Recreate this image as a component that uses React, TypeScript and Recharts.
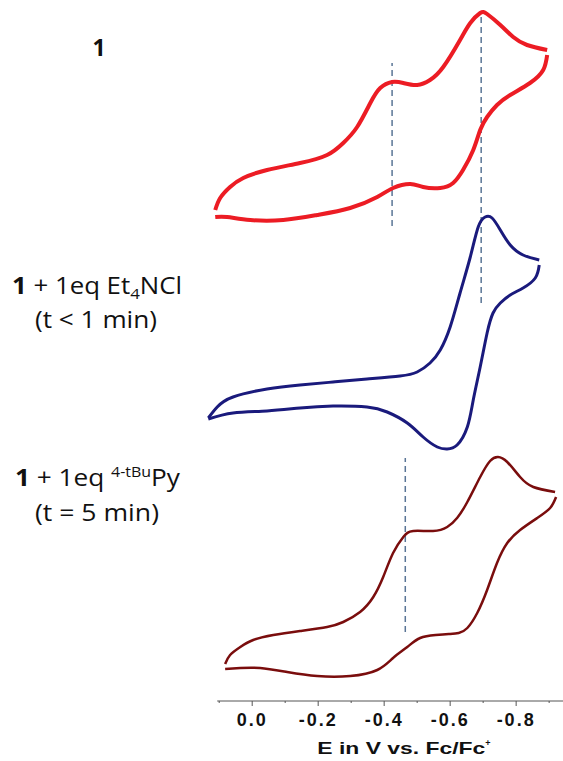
import { LineChart, Line, XAxis, YAxis, ReferenceLine } from 'recharts'

// potentials in V vs Fc/Fc+, current in arbitrary units (traces stacked)
const redFwdE = [0.112, 0.097, 0.067, 0.027, -0.045, -0.145, -0.227, -0.276, -0.318, -0.358, -0.388, -0.424, -0.458, -0.5, -0.539, -0.579, -0.63, -0.661, -0.691, -0.712, -0.752, -0.791, -0.833, -0.894]
const redFwdI = [491, 503, 514, 523, 531, 538, 546, 558, 574, 598, 613, 619, 618, 616, 621, 634, 661, 678, 688, 687, 676, 664, 656, 651]
const redRevE = [-0.894, -0.882, -0.842, -0.782, -0.742, -0.712, -0.691, -0.67, -0.639, -0.609, -0.57, -0.518, -0.479, -0.427, -0.379, -0.297, -0.197, -0.094, 0.006, 0.076, 0.112]
const redRevI = [646, 631, 618, 606, 596, 584, 571, 551, 531, 518, 513, 514, 517, 513, 504, 493, 486, 481, 481, 484, 484]

const blueFwdE = [0.133, 0.106, 0.058, -0.045, -0.145, -0.245, -0.348, -0.448, -0.5, -0.539, -0.57, -0.6, -0.63, -0.661, -0.685, -0.706, -0.727, -0.752, -0.782, -0.821, -0.87]
const blueFwdI = [283, 294, 304, 312, 316, 319, 322, 325, 329, 338, 351, 374, 408, 444, 474, 484, 483, 471, 456, 446, 441]
const blueRevE = [-0.87, -0.858, -0.821, -0.782, -0.752, -0.73, -0.712, -0.691, -0.67, -0.652, -0.621, -0.591, -0.561, -0.518, -0.47, -0.409, -0.348, -0.245, -0.145, -0.045, 0.058, 0.133]
const blueRevI = [436, 423, 413, 406, 398, 388, 368, 334, 301, 274, 256, 252, 254, 264, 278, 289, 294, 295, 293, 290, 288, 282]

const brownFwdE = [0.082, 0.067, 0.036, -0.003, -0.064, -0.145, -0.227, -0.276, -0.327, -0.367, -0.397, -0.427, -0.458, -0.488, -0.548, -0.591, -0.621, -0.652, -0.691, -0.721, -0.745, -0.773, -0.812, -0.852, -0.918]
const brownFwdI = [37, 46, 54, 61, 66, 70, 74, 79, 89, 104, 124, 148, 164, 170, 170, 174, 183, 199, 224, 240, 244, 239, 224, 214, 209]
const brownRevE = [-0.921, -0.903, -0.864, -0.812, -0.773, -0.742, -0.712, -0.682, -0.652, -0.626, -0.596, -0.556, -0.509, -0.47, -0.427, -0.379, -0.297, -0.197, -0.106, -0.024, 0.036, 0.082]
const brownRevI = [204, 193, 183, 171, 158, 138, 111, 88, 73, 68, 67, 66, 63, 54, 43, 31, 25, 25, 29, 33, 33, 32]

// dashed guides: [potential, from, to]
const guides = [
  [-0.424, 475, 638],
  [-0.694, 398, 689],
  [-0.464, 69, 243],
]

const xTicks = [0.1, 0, -0.1, -0.2, -0.3, -0.4, -0.5, -0.6, -0.7, -0.8, -0.9]

const pts = (e: number[], i: number[]) => e.map((v, k) => ({ e: v, i: i[k] }))

const AxisTick = (props: any) => {
  const { x, y, payload } = props
  const v = payload.value
  const major = Math.abs(Math.round(v * 10)) % 2 === 0
  const label = v === 0 ? '0.0' : v.toFixed(1)
  return (
    <g>
      <line x1={x} x2={x} y1={y} y2={y + (major ? 5 : 2)} stroke="#555" />
      {major && (
        <text x={x} y={y + 25} textAnchor="middle" fontFamily="'Liberation Sans', Arial" fontWeight="bold" fontSize={18} letterSpacing={2} fill="#111">
          {label}
        </text>
      )}
    </g>
  )
}

const labelFont = "'Open Sans', Lato, sans-serif"

export default function App() {
  return (
    <div style={{ position: 'absolute', left: 0, top: 0, width: 563, height: 761, background: '#fff' }}>
      <LineChart width={563} height={761} margin={{ top: 0, right: 0, left: 206, bottom: 0 }}>
        <XAxis
          type="number"
          dataKey="e"
          domain={[-0.942, 0.14]}
          reversed
          ticks={xTicks}
          interval={0}
          height={60}
          axisLine={false}
          tickLine={false}
          tickSize={0}
          tickMargin={0}
          tick={<AxisTick />}
        />
        <YAxis hide type="number" domain={[0, 701]} />
        <ReferenceLine segment={[{ x: 0.106, y: 0 }, { x: -0.942, y: 0 }]} stroke="#555" strokeWidth={1} ifOverflow="visible" />
        {guides.map((g, k) => (
          <ReferenceLine key={k} segment={[{ x: g[0], y: g[1] }, { x: g[0], y: g[2] }]} stroke="#5a7596" strokeWidth={1.5} strokeDasharray="6 4" ifOverflow="visible" />
        ))}
        <Line data={pts(redFwdE, redFwdI)} dataKey="i" type="natural" stroke="#ec1c24" strokeWidth={4} dot={false} isAnimationActive={false} />
        <Line data={pts(redRevE, redRevI)} dataKey="i" type="natural" stroke="#ec1c24" strokeWidth={4} dot={false} isAnimationActive={false} />
        <Line data={pts(blueFwdE, blueFwdI)} dataKey="i" type="natural" stroke="#1a1a7c" strokeWidth={3} dot={false} isAnimationActive={false} />
        <Line data={pts(blueRevE, blueRevI)} dataKey="i" type="natural" stroke="#1a1a7c" strokeWidth={3} dot={false} isAnimationActive={false} />
        <Line data={pts(brownFwdE, brownFwdI)} dataKey="i" type="natural" stroke="#7a0d0d" strokeWidth={2.5} dot={false} isAnimationActive={false} />
        <Line data={pts(brownRevE, brownRevI)} dataKey="i" type="natural" stroke="#7a0d0d" strokeWidth={2.5} dot={false} isAnimationActive={false} />
      </LineChart>
      <svg width={563} height={761} style={{ position: 'absolute', left: 0, top: 0, pointerEvents: 'none' }}>
        <g fontFamily={labelFont} fill="#111" textAnchor="middle">
          <text x={99} y={56} fontSize={23} fontWeight="bold">1</text>
          <text x={97} y={294} fontSize={23} textLength={170} lengthAdjust="spacingAndGlyphs">
            <tspan fontWeight="bold">1</tspan> + 1eq Et<tspan fontSize={15} dy={5}>4</tspan><tspan dy={-5}>NCl</tspan>
          </text>
          <text x={96} y={328} fontSize={23} textLength={122} lengthAdjust="spacingAndGlyphs">(t &lt; 1 min)</text>
          <text x={97.5} y={486} fontSize={23} textLength={165} lengthAdjust="spacingAndGlyphs">
            <tspan fontWeight="bold">1</tspan> + 1eq <tspan fontSize={14} dy={-9}>4-tBu</tspan><tspan dy={9}>Py</tspan>
          </text>
          <text x={97} y={521} fontSize={23} textLength={124} lengthAdjust="spacingAndGlyphs">(t = 5 min)</text>
        </g>
        <text x={404} y={754} textAnchor="middle" fontFamily="'Liberation Sans', Arial" fontWeight="bold" fontSize={17} fill="#111">
          <tspan textLength={168} lengthAdjust="spacingAndGlyphs">E in V vs. Fc/Fc</tspan>
          <tspan fontSize={9} dy={-8}>+</tspan>
        </text>
      </svg>
    </div>
  )
}
